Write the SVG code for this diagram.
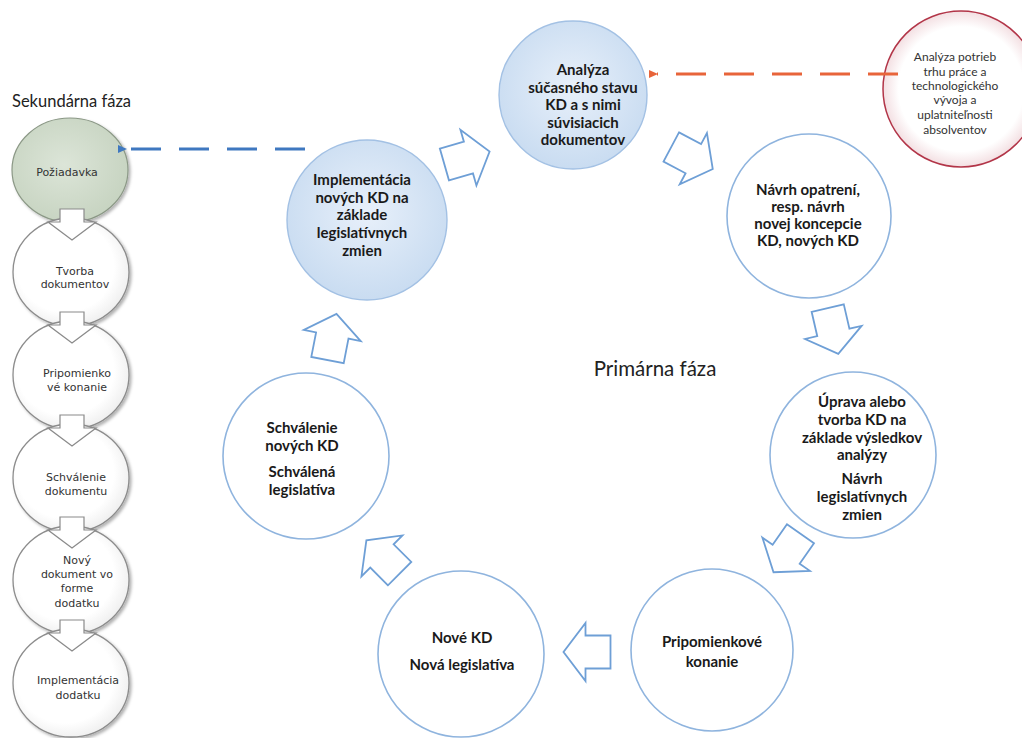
<svg xmlns="http://www.w3.org/2000/svg" xmlns:xlink="http://www.w3.org/1999/xlink" width="1022" height="738" viewBox="0 0 1022 738">
<defs>
<style>
.pc{fill:#ffffff;stroke:#8fb4de;stroke-width:1.6}
.pcf{fill:url(#gBlue);stroke:#a3c1e4;stroke-width:1.4}
.pt{font-family:Lato,"Open Sans",sans-serif;font-weight:bold;font-size:15px;fill:#1a1a1a;text-anchor:middle}
.lc{fill:url(#gWhite);stroke:#8c8c8c;stroke-width:1.3;filter:url(#sh)}
.lt{font-family:"DejaVu Sans",sans-serif;font-size:11px;fill:#333333;text-anchor:middle}
.rt{font-family:Lato,"Open Sans",sans-serif;font-size:12px;fill:#333333;text-anchor:middle}
.ba{fill:#ffffff;stroke:#6e9fd6;stroke-width:1.8;stroke-linejoin:miter}
.da{fill:#ffffff;stroke:#8a8a8a;stroke-width:1.2}
.title{font-family:Lato,"Open Sans",sans-serif;fill:#222222}
</style>
<radialGradient id="gBlue" cx="50%" cy="45%" r="55%">
<stop offset="0" stop-color="#e8f0fa"/>
<stop offset="1" stop-color="#c9dcf1"/>
</radialGradient>
<radialGradient id="gWhite" cx="45%" cy="45%" r="60%">
<stop offset="0.7" stop-color="#ffffff"/>
<stop offset="1" stop-color="#ececec"/>
</radialGradient>
<radialGradient id="gGreen" cx="45%" cy="45%" r="60%">
<stop offset="0" stop-color="#dce5d8"/>
<stop offset="1" stop-color="#c6d3c0"/>
</radialGradient>
<radialGradient id="gRed" cx="50%" cy="50%" r="50%">
<stop offset="0.8" stop-color="#ffffff"/>
<stop offset="1" stop-color="#f3dfe2"/>
</radialGradient>
<filter id="sh" x="-20%" y="-20%" width="140%" height="140%">
<feDropShadow dx="2" dy="2" stdDeviation="1.5" flood-color="#000000" flood-opacity="0.3"/>
</filter>
<polygon id="barrow" class="ba" points="-23.5,-16.5 1.5,-16.5 1.5,-29 23.5,0 1.5,29 1.5,16.5 -23.5,16.5"/>
<polygon id="darrow" class="da" points="-12,-13 12,-13 12,0 24,0 0,18 -24,0 -12,0"/>
<marker id="mRed" markerWidth="10" markerHeight="10" refX="1" refY="4" orient="auto" markerUnits="userSpaceOnUse">
<path d="M9,0 L0,4 L9,8 Z" fill="#e8643a"/>
</marker>
<marker id="mBlue" markerWidth="10" markerHeight="10" refX="1" refY="4" orient="auto" markerUnits="userSpaceOnUse">
<path d="M9,0 L0,4 L9,8 Z" fill="#3f78c0"/>
</marker>
</defs>
<rect x="0" y="0" width="1022" height="738" fill="#ffffff"/>

<text class="title" x="12" y="107" font-size="16.5">Sekundárna fáza</text>
<text class="title" x="655" y="376" font-size="20.5" text-anchor="middle">Primárna fáza</text>

<!-- primary cycle nodes -->
<g id="n-analyza">
<circle class="pcf" cx="573" cy="95" r="74"/>
<text class="pt" x="583" y="75">Analýza</text>
<text class="pt" x="583" y="92.5">súčasného stavu</text>
<text class="pt" x="583" y="110">KD a s nimi</text>
<text class="pt" x="583" y="127.5">súvisiacich</text>
<text class="pt" x="583" y="145">dokumentov</text>
</g>
<g id="n-navrh">
<circle class="pc" cx="809" cy="216" r="82"/>
<text class="pt" x="808" y="195">Návrh opatrení,</text>
<text class="pt" x="808" y="212">resp. návrh</text>
<text class="pt" x="808" y="229">novej koncepcie</text>
<text class="pt" x="808" y="246">KD, nových KD</text>
</g>
<g id="n-uprava">
<circle class="pc" cx="853" cy="455" r="83"/>
<text class="pt" x="862" y="407">Úprava alebo</text>
<text class="pt" x="862" y="425">tvorba KD na</text>
<text class="pt" x="862" y="443">základe výsledkov</text>
<text class="pt" x="862" y="460">analýzy</text>
<text class="pt" x="862" y="484">Návrh</text>
<text class="pt" x="862" y="502">legislatívnych</text>
<text class="pt" x="862" y="520">zmien</text>
</g>
<g id="n-pripomienkove">
<circle class="pc" cx="712" cy="650" r="81"/>
<text class="pt" x="712" y="647">Pripomienkové</text>
<text class="pt" x="712" y="667">konanie</text>
</g>
<g id="n-nove">
<circle class="pc" cx="461" cy="654" r="83"/>
<text class="pt" x="462" y="643">Nové KD</text>
<text class="pt" x="462" y="670">Nová legislatíva</text>
</g>
<g id="n-schvalenie">
<circle class="pc" cx="306" cy="456" r="83"/>
<text class="pt" x="302" y="433">Schválenie</text>
<text class="pt" x="302" y="451">nových KD</text>
<text class="pt" x="302" y="477">Schválená</text>
<text class="pt" x="302" y="495">legislatíva</text>
</g>
<g id="n-implementacia">
<circle class="pcf" cx="367" cy="220" r="80"/>
<text class="pt" x="362" y="185">Implementácia</text>
<text class="pt" x="362" y="203">nových KD na</text>
<text class="pt" x="362" y="220">základe</text>
<text class="pt" x="362" y="238">legislatívnych</text>
<text class="pt" x="362" y="256">zmien</text>
</g>
<g id="n-potreby">
<circle cx="961" cy="89" r="78" fill="url(#gRed)" stroke="#b23548" stroke-width="1.5"/>
<text class="rt" x="955" y="61">Analýza potrieb</text>
<text class="rt" x="955" y="76">trhu práce a</text>
<text class="rt" x="955" y="90">technologického</text>
<text class="rt" x="955" y="104">vývoja a</text>
<text class="rt" x="955" y="119">uplatniteľnosti</text>
<text class="rt" x="955" y="134">absolventov</text>
</g>

<!-- secondary phase nodes -->
<g id="s-poziadavka">
<ellipse cx="70" cy="170" rx="58" ry="52" fill="url(#gGreen)" stroke="#8b9886" stroke-width="1.2" filter="url(#sh)"/>
<text class="lt" x="67" y="176">Požiadavka</text>
</g>
<g id="s-tvorba">
<ellipse class="lc" cx="71" cy="272" rx="58" ry="54"/>
<text class="lt" x="75" y="275">Tvorba</text>
<text class="lt" x="75" y="288">dokumentov</text>
</g>
<g id="s-pripomienko">
<ellipse class="lc" cx="71" cy="375" rx="58" ry="54"/>
<text class="lt" x="77" y="377">Pripomienko</text>
<text class="lt" x="77" y="391">vé konanie</text>
</g>
<g id="s-schvalenie">
<ellipse class="lc" cx="71" cy="478" rx="58" ry="54"/>
<text class="lt" x="76" y="481">Schválenie</text>
<text class="lt" x="76" y="495">dokumentu</text>
</g>
<g id="s-novy">
<ellipse class="lc" cx="71" cy="580" rx="58" ry="54"/>
<text class="lt" x="77" y="564">Nový</text>
<text class="lt" x="77" y="578">dokument vo</text>
<text class="lt" x="77" y="592">forme</text>
<text class="lt" x="77" y="607">dodatku</text>
</g>
<g id="s-implementacia">
<ellipse class="lc" cx="71" cy="683" rx="58" ry="54"/>
<text class="lt" x="78" y="684">Implementácia</text>
<text class="lt" x="78" y="699">dodatku</text>
</g>

<!-- connectors -->
<g id="connectors">
<use xlink:href="#barrow" href="#barrow" transform="translate(467,158) rotate(-16)"/>
<use xlink:href="#barrow" href="#barrow" transform="translate(692,158) rotate(28)"/>
<use xlink:href="#barrow" href="#barrow" transform="translate(833,331) rotate(77)"/>
<use xlink:href="#barrow" href="#barrow" transform="translate(787,553) rotate(125)"/>
<use xlink:href="#barrow" href="#barrow" transform="translate(587,652) rotate(180)"/>
<use xlink:href="#barrow" href="#barrow" transform="translate(383,557) rotate(-135)"/>
<use xlink:href="#barrow" href="#barrow" transform="translate(332,337) rotate(-79)"/>

<use xlink:href="#darrow" href="#darrow" transform="translate(72,222)"/>
<use xlink:href="#darrow" href="#darrow" transform="translate(72,325)"/>
<use xlink:href="#darrow" href="#darrow" transform="translate(72,428)"/>
<use xlink:href="#darrow" href="#darrow" transform="translate(72,530)"/>
<use xlink:href="#darrow" href="#darrow" transform="translate(72,633)"/>

<line x1="898" y1="74" x2="657" y2="74" stroke="#e8643a" stroke-width="3" stroke-dasharray="30 18" marker-end="url(#mRed)"/>
<line x1="305" y1="149" x2="126" y2="149" stroke="#3f78c0" stroke-width="3" stroke-dasharray="30 18" marker-end="url(#mBlue)"/>
</g>
</svg>
